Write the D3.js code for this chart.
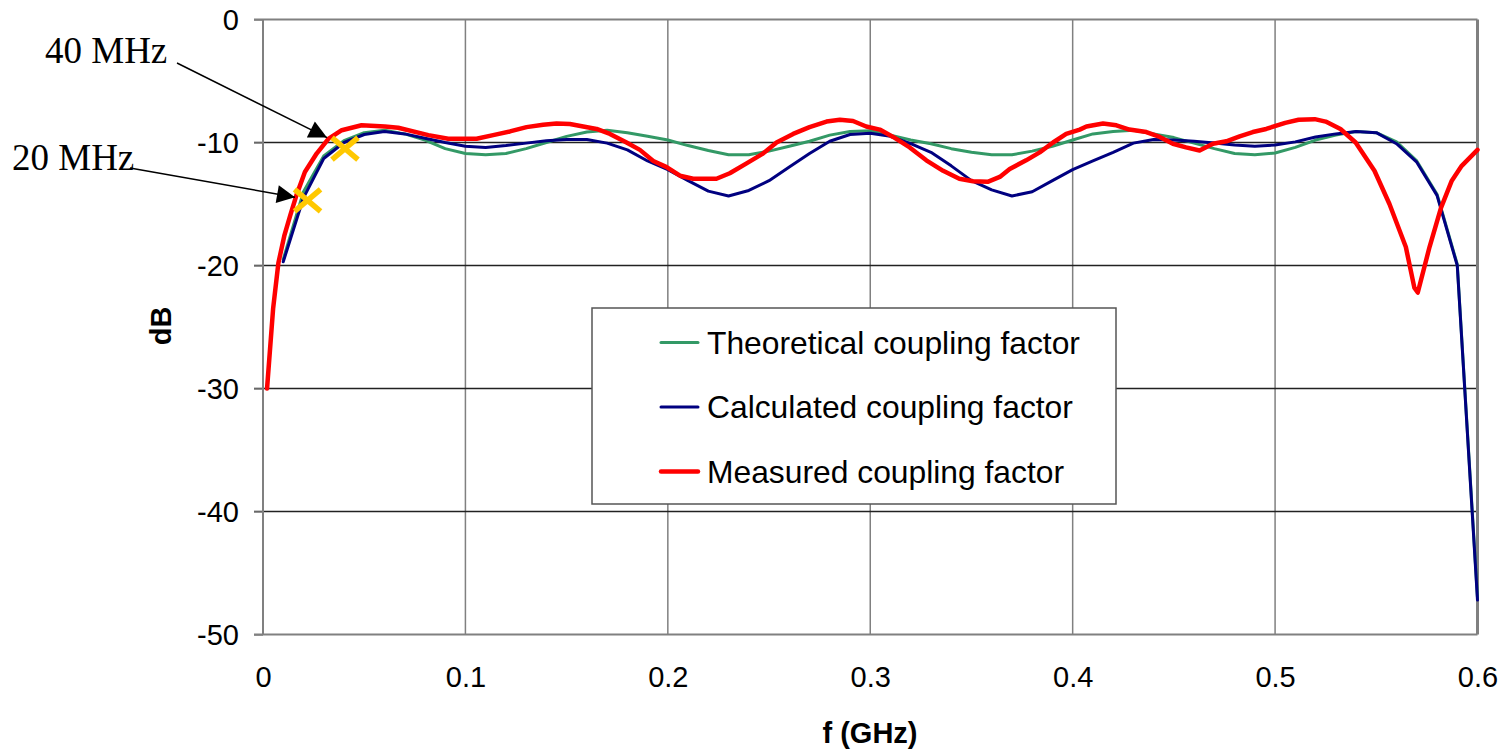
<!DOCTYPE html>
<html>
<head>
<meta charset="utf-8">
<script src="https://cdn.jsdelivr.net/npm/d3@7"></script>
<style>
html,body{margin:0;padding:0;background:#fff;}
svg{display:block;}
</style>
</head>
<body>
<svg id="chart" width="1504" height="750"></svg>
<script>
// ---- Data ----
const freqGHz = [0.01,0.02,0.03,0.04,0.05,0.06,0.07,0.08,0.09,0.10,
  0.11,0.12,0.13,0.14,0.15,0.16,0.17,0.18,0.19,0.20,
  0.21,0.22,0.23,0.24,0.25,0.26,0.27,0.28,0.29,0.30,
  0.31,0.32,0.33,0.34,0.35,0.36,0.37,0.38,0.39,0.40,
  0.41,0.42,0.43,0.44,0.45,0.46,0.47,0.48,0.49,0.50,
  0.51,0.52,0.53,0.54,0.55,0.56,0.57,0.58,0.59,0.60];
const theoreticalDB = [-19.5,-14.0,-11.1,-9.85,-9.2,-9.0,-9.3,-9.8,-10.5,-10.9,
  -11.0,-10.9,-10.5,-10.0,-9.5,-9.15,-9.0,-9.2,-9.5,-9.8,
  -10.25,-10.65,-11.0,-11.0,-10.7,-10.3,-9.9,-9.4,-9.1,-9.05,
  -9.4,-9.8,-10.1,-10.5,-10.8,-11.0,-11.0,-10.7,-10.3,-9.8,
  -9.3,-9.1,-9.0,-9.3,-9.6,-10.05,-10.5,-10.9,-11.0,-10.85,
  -10.4,-9.8,-9.4,-9.1,-9.2,-9.95,-11.5,-14.2,-19.9,-47.0];
const calculatedDB = [-19.7,-14.5,-11.3,-10.0,-9.35,-9.1,-9.3,-9.65,-10.0,-10.3,
  -10.4,-10.25,-10.05,-9.85,-9.75,-9.75,-10.05,-10.6,-11.5,-12.2,
  -13.1,-13.95,-14.35,-13.9,-13.1,-12.0,-10.9,-9.9,-9.35,-9.25,
  -9.5,-10.1,-10.8,-11.9,-13.1,-13.85,-14.35,-14.0,-13.1,-12.2,
  -11.5,-10.8,-10.05,-9.75,-9.8,-9.9,-10.05,-10.2,-10.3,-10.2,
  -9.95,-9.55,-9.3,-9.1,-9.2,-10.1,-11.6,-14.3,-20.0,-47.2];
const measuredFreqGHz = [0.002,0.005,0.0076,0.0105,0.0135,0.0165,0.0207,0.0265,0.0323,0.0389,0.0487,
  0.0602,0.0668,0.0817,0.0915,0.1055,0.1137,0.122,0.1302,0.1384,0.145,
  0.1516,0.1582,0.1648,0.1714,0.1796,0.1862,0.1928,0.1994,0.206,0.2125,
  0.224,0.2306,0.2389,0.247,0.2537,0.2619,0.27,0.2784,0.285,0.2915,
  0.298,0.3047,0.3113,0.3195,0.3277,0.336,0.344,0.3508,0.358,0.364,
  0.3689,0.377,0.3837,0.3903,0.3968,0.4035,0.4068,0.415,0.4216,0.428,
  0.4364,0.443,0.4495,0.456,0.4627,0.4693,0.4759,0.4825,0.489,0.4956,
  0.505,0.5116,0.5196,0.525,0.5323,0.5398,0.5491,0.5565,0.5646,0.5688,
  0.5705,0.5763,0.582,0.5873,0.5922,0.6];
const measuredDB = [-30.0,-23.5,-19.8,-17.6,-15.9,-14.3,-12.4,-10.9,-9.7,-9.0,-8.6,
  -8.7,-8.8,-9.4,-9.7,-9.7,-9.4,-9.1,-8.75,-8.55,-8.45,
  -8.5,-8.7,-8.9,-9.3,-10.0,-10.6,-11.5,-12.0,-12.7,-12.95,
  -12.95,-12.5,-11.7,-10.9,-10.0,-9.3,-8.75,-8.3,-8.15,-8.25,
  -8.7,-8.95,-9.55,-10.4,-11.45,-12.3,-12.95,-13.15,-13.2,-12.8,
  -12.15,-11.45,-10.8,-10.0,-9.3,-8.95,-8.7,-8.45,-8.6,-8.95,
  -9.15,-9.55,-10.1,-10.4,-10.65,-10.1,-9.9,-9.5,-9.15,-8.9,
  -8.4,-8.15,-8.1,-8.3,-8.9,-10.0,-12.3,-15.0,-18.5,-21.8,
  -22.2,-18.5,-15.3,-13.1,-11.9,-10.6];
const markerFreqGHz = [0.022, 0.0405];
const markerDB = [-14.7, -10.5];
const annotationLabels = ["20 MHz", "40 MHz"];
const annotationTipFreqGHz = [0.0158, 0.0316];
const annotationTipDB = [-14.45, -9.6];
const seriesNames = ["Theoretical coupling factor", "Calculated coupling factor", "Measured coupling factor"];
const seriesColors = ["#339966", "#000080", "#ff0000"];
const xTicks = [0, 0.1, 0.2, 0.3, 0.4, 0.5, 0.6];
const yTicks = [0, -10, -20, -30, -40, -50];

// ---- Layout ----
const svg = d3.select("#chart");
const L = 263, R = 1477.5, T = 19.5, B = 634.5;
const x = d3.scaleLinear().domain([0, 0.6]).range([L, R]);
const y = d3.scaleLinear().domain([-50, 0]).range([B, T]);
const FONT = "Liberation Sans, Arial, sans-serif";

// Gridlines
svg.append("g").selectAll("line").data(xTicks.slice(1, -1)).join("line")
  .attr("x1", d => x(d)).attr("x2", d => x(d)).attr("y1", T).attr("y2", B)
  .attr("stroke", "#808080").attr("stroke-width", 1.5);
svg.append("g").selectAll("line").data(yTicks.slice(1, -1)).join("line")
  .attr("x1", L - 9).attr("x2", R).attr("y1", d => y(d)).attr("y2", d => y(d))
  .attr("stroke", "#222").attr("stroke-width", 1.5);

// Axes
const yAxis = d3.axisLeft(y).tickValues(yTicks).tickSize(9).tickFormat(d3.format("d"));
const gy = svg.append("g").attr("transform", `translate(${L},0)`).call(yAxis);
gy.select(".domain").remove();
gy.selectAll(".tick line").attr("stroke", "#808080").attr("stroke-width", 1.5);
gy.selectAll(".tick text").attr("font-family", FONT).attr("font-size", 29).attr("fill", "#000")
  .attr("x", -24).attr("dy", "0.34em").text(d => d === 0 ? "0" : String(d));

const xAxis = d3.axisBottom(x).tickValues(xTicks).tickSize(0).tickFormat(d => d === 0 ? "0" : d3.format(".1f")(d));
const gx = svg.append("g").attr("transform", `translate(0,${B})`).call(xAxis);
gx.select(".domain").remove();
gx.selectAll(".tick text").attr("font-family", FONT).attr("font-size", 29).attr("fill", "#000")
  .attr("y", 32).attr("dy", "0.71em");

// Plot border
svg.append("line").attr("x1", L).attr("x2", L).attr("y1", T).attr("y2", B).attr("stroke", "#808080").attr("stroke-width", 2);
svg.append("line").attr("x1", L - 9).attr("x2", R).attr("y1", B).attr("y2", B).attr("stroke", "#808080").attr("stroke-width", 2);
svg.append("line").attr("x1", L - 9).attr("x2", R).attr("y1", T).attr("y2", T).attr("stroke", "#808080").attr("stroke-width", 2);
svg.append("line").attr("x1", R).attr("x2", R).attr("y1", T).attr("y2", B).attr("stroke", "#808080").attr("stroke-width", 3);

// Axis titles
svg.append("text").attr("x", 870).attr("y", 743).attr("text-anchor", "middle")
  .attr("font-family", FONT).attr("font-size", 29).attr("font-weight", "bold").text("f (GHz)");
svg.append("text").attr("transform", "translate(171,326) rotate(-90)").attr("text-anchor", "middle")
  .attr("font-family", FONT).attr("font-size", 29).attr("font-weight", "bold").text("dB");

// Lines
const line = d3.line().x(d => x(d[0])).y(d => y(d[1]));
const theo = freqGHz.map((f, i) => [f, theoreticalDB[i]]);
const calc = freqGHz.map((f, i) => [f, calculatedDB[i]]);
const meas = measuredFreqGHz.map((f, i) => [f, measuredDB[i]]);
const widths = [3, 3, 4.5];
[theo, calc, meas].forEach((data, i) => {
  svg.append("path").datum(data).attr("d", line).attr("fill", "none")
    .attr("stroke", seriesColors[i]).attr("stroke-width", widths[i])
    .attr("stroke-linejoin", "round").attr("stroke-linecap", "round");
});

// Markers (yellow X)
const mk = svg.append("g");
markerFreqGHz.forEach((f, i) => {
  const cx = x(f), cy = y(markerDB[i]);
  mk.append("line").attr("x1", cx - 13).attr("y1", cy - 11).attr("x2", cx + 13).attr("y2", cy + 11)
    .attr("stroke", "#ffc800").attr("stroke-width", 5.5);
  mk.append("line").attr("x1", cx - 13).attr("y1", cy + 11).attr("x2", cx + 13).attr("y2", cy - 11)
    .attr("stroke", "#ffc800").attr("stroke-width", 5.5);
});

// Annotations
svg.append("defs").append("marker").attr("id", "arrow").attr("viewBox", "0 0 10 10")
  .attr("refX", 10).attr("refY", 5).attr("markerWidth", 22).attr("markerHeight", 18)
  .attr("markerUnits", "userSpaceOnUse").attr("orient", "auto")
  .append("path").attr("d", "M0,0 L10,5 L0,10 z").attr("fill", "#000");
const labelPos = [[12, 170, 130, 168], [45, 63, 177, 63]];
annotationLabels.forEach((lab, i) => {
  const p = labelPos[i];
  svg.append("text").attr("x", p[0]).attr("y", p[1]).attr("font-family", "Liberation Serif, Times New Roman, serif")
    .attr("font-size", 37).attr("fill", "#000").text(lab);
  svg.append("line").attr("x1", p[2]).attr("y1", p[3])
    .attr("x2", x(annotationTipFreqGHz[i])).attr("y2", y(annotationTipDB[i]))
    .attr("stroke", "#000").attr("stroke-width", 1.5).attr("marker-end", "url(#arrow)");
});

// Legend
const lg = svg.append("g");
lg.append("rect").attr("x", 592).attr("y", 308).attr("width", 524).attr("height", 196)
  .attr("fill", "#fff").attr("stroke", "#555").attr("stroke-width", 1.5);
const rowY = [342.5, 407, 471.5];
seriesNames.forEach((n, i) => {
  lg.append("line").attr("x1", 661).attr("x2", 698).attr("y1", rowY[i]).attr("y2", rowY[i])
    .attr("stroke", seriesColors[i]).attr("stroke-width", widths[i]).attr("stroke-linecap", "round");
  lg.append("text").attr("x", 707).attr("y", rowY[i]).attr("dy", "0.36em")
    .attr("font-family", FONT).attr("font-size", 31.8).attr("fill", "#000").text(n);
});
</script>
</body>
</html>
